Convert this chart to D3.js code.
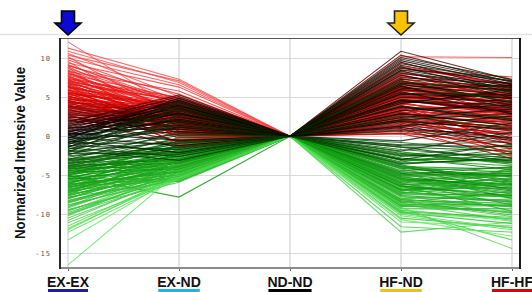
<!DOCTYPE html>
<html><head><meta charset="utf-8">
<script src="https://cdn.jsdelivr.net/npm/d3@7"></script>
<style>body{margin:0;background:#fff;overflow:hidden}</style>
</head><body>
<svg id="c" width="532" height="292"></svg>
<script>
// ---------------- data ----------------
const categories = ["EX-EX", "EX-ND", "ND-ND", "HF-ND", "HF-HF"];
const yTicks = [-15, -10, -5, 0, 5, 10];
const ndNdBaseline = 0; // every profile is normalized to ND-ND
// profiles: [EX-EX, EX-ND, HF-ND, HF-HF]
const greenProfiles = [
 [-2.7,-0.4,-1.1,-0.7],[-2.9,-1.6,-2.2,-3.4],[-3.0,0.5,-0.8,-2.0],[-3.1,-2.4,-3.3,-1.5],
 [-3.2,-1.0,-4.1,-5.2],[-3.3,-3.2,-1.7,-2.8],[-3.4,-0.2,-2.8,-4.3],[-3.5,-2.0,-5.0,-3.9],
 [-3.6,-1.3,-3.9,-6.1],[-3.7,-3.5,-2.4,-1.2],[-3.8,-0.9,-4.6,-4.8],[-3.9,-2.7,-6.2,-5.5],
 [-4.0,-1.8,-3.1,-2.5],[-4.1,-3.9,-5.4,-7.0],[-4.2,-0.6,-2.0,-3.6],[-4.3,-2.2,-4.4,-4.0],
 [-4.4,-3.0,-6.8,-6.6],[-4.5,-1.5,-3.7,-5.8],[-4.6,-4.2,-5.8,-4.5],[-4.7,-2.5,-2.6,-2.3],
 [-4.8,-1.1,-7.2,-7.8],[-4.9,-3.4,-4.9,-6.3],[-5.0,-7.8,-6.0,-5.0],[-5.1,-2.0,-3.4,-3.0],
 [-5.2,-4.6,-7.6,-8.4],[-5.3,-2.9,-5.1,-4.4],[-5.4,-5.6,-4.2,-6.9],[-5.5,-1.7,-6.5,-5.3],
 [-5.6,-3.7,-8.1,-9.0],[-5.7,-5.8,-5.6,-7.4],[-5.8,-2.4,-3.0,-3.8],[-5.9,-4.0,-7.0,-6.0],
 [-6.0,-3.1,-4.7,-8.0],[-6.1,-5.0,-8.5,-7.1],[-6.2,-1.4,-5.9,-4.7],[-6.3,-4.4,-6.4,-9.6],
 [-6.4,-2.6,-3.8,-5.6],[-6.5,-5.3,-8.8,-8.7],[-6.6,-3.6,-5.3,-6.5],[-6.7,-2.1,-7.4,-4.1],
 [-6.8,-4.8,-6.9,-7.7],[-6.9,-3.3,-4.5,-5.9],[-7.0,-5.5,-9.2,-9.3],[-7.1,-2.8,-6.1,-6.8],
 [-7.2,-4.1,-7.8,-8.2],[-7.3,-3.8,-5.0,-5.1],[-7.4,-5.1,-8.3,-10.1],[-7.5,-2.3,-6.6,-7.3],
 [-7.6,-4.5,-7.3,-6.2],[-7.7,-3.5,-9.0,-8.9],[-7.8,-5.7,-6.3,-7.9],[-7.9,-4.3,-8.6,-9.8],
 [-8.0,-3.2,-5.7,-6.4],[-8.2,-5.2,-9.5,-10.6],[-8.4,-4.7,-7.1,-8.5],[-8.6,-3.9,-8.0,-7.6],
 [-8.8,-5.4,-9.8,-11.2],[-9.0,-4.9,-7.7,-9.1],[-9.2,-4.2,-8.9,-8.0],[-9.4,-5.9,-10.5,-11.7],
 [-9.6,-4.6,-8.4,-10.3],[-9.8,-5.0,-9.3,-9.5],[-10.0,-5.5,-11.6,-12.3],[-10.2,-4.4,-8.7,-10.8],
 [-10.5,-5.2,-9.6,-13.3],[-10.8,-4.8,-12.3,-11.0],[-11.1,-5.6,-9.1,-14.4],[-11.5,-5.1,-10.2,-12.0],
 [-12.0,-4.9,-9.9,-10.6],[-12.3,-5.4,-11.0,-11.5],[-13.3,-5.0,-10.7,-12.8],[-16.5,-4.6,-9.4,-10.9],
 [-3.0,-1.9,-1.4,-1.9],[-3.5,-0.7,-3.5,-2.9],[-4.0,-2.9,-4.8,-5.0],[-4.5,-3.3,-2.3,-3.3],
 [-5.0,-1.2,-5.5,-6.2],[-5.5,-3.9,-6.9,-5.7],[-6.0,-2.2,-4.0,-4.6],[-6.5,-4.2,-7.5,-7.5],
 [-7.0,-3.0,-5.6,-7.2],[-7.5,-4.9,-8.2,-8.6],[-8.0,-4.0,-6.7,-5.4],[-8.5,-5.1,-8.9,-9.7],
 [-9.0,-3.6,-7.3,-8.3],[-9.5,-5.3,-9.7,-10.4],[-4.2,-2.6,-5.2,-6.7],[-5.2,-3.5,-3.9,-4.2],
 [-6.2,-4.6,-6.0,-8.8],[-7.2,-2.6,-7.0,-6.0],[-3.8,-1.4,-2.9,-3.1],[-4.9,-2.3,-6.4,-7.6],
 [-6.8,-3.9,-5.2,-4.9],[-8.3,-4.4,-8.4,-9.0],[-10.0,-4.8,-8.0,-9.9],[-11.8,-5.3,-10.0,-11.8]
];
const redProfiles = [
 [12.1,3.2,5.5,2.1],[11.3,7.3,6.8,4.5],[10.9,6.9,8.2,5.6],[10.6,5.1,4.4,1.2],
 [10.4,7.1,9.4,6.3],[10.2,2.4,3.6,-0.8],[10.0,6.6,7.7,6.1],[9.8,4.6,5.2,3.4],
 [9.6,1.1,2.8,0.6],[9.4,6.3,10.2,10.1],[9.2,3.9,6.1,4.8],[9.0,5.4,4.8,2.6],
 [8.8,-0.4,3.1,1.5],[8.7,4.2,7.3,5.2],[8.5,3.3,2.2,-1.8],[8.3,5.8,8.8,6.6],
 [8.2,2.1,5.7,3.1],[8.0,4.9,6.4,4.0],[7.9,3.6,1.6,0.4],[7.8,1.7,4.3,2.2],
 [7.6,4.4,7.0,5.9],[7.5,2.8,3.8,-2.6],[7.4,5.0,6.9,4.4],[7.3,0.6,2.5,1.0],
 [7.2,3.7,5.1,3.6],[7.1,4.1,8.0,6.8],[7.0,2.3,0.9,-0.3],[6.9,3.0,4.6,2.9],
 [6.8,1.4,6.3,5.0],[6.7,4.7,3.4,1.9],[6.6,2.6,5.9,4.1],[6.5,-1.2,1.8,0.2],
 [6.4,3.4,7.6,6.0],[6.3,1.9,4.0,-1.1],[6.2,4.0,2.7,3.3],[6.1,2.2,6.6,5.4],
 [6.0,0.9,3.3,2.4],[5.9,3.8,5.4,4.6],[5.8,1.3,1.2,-2.1],[5.7,2.9,7.2,3.8],
 [5.6,3.5,4.7,5.7],[5.5,0.3,2.0,0.8],[5.4,2.0,5.6,4.3],[5.3,4.3,3.9,1.6],
 [5.2,1.6,6.8,6.4],[5.1,2.7,0.6,-1.4],[5.0,3.1,4.1,3.0],[4.9,0.7,5.3,2.7],
 [4.8,2.4,2.9,4.9],[4.7,3.9,6.0,5.1],[4.6,1.0,3.5,0.0],[4.5,2.5,1.4,2.0],
 [4.4,-0.8,4.5,3.5],[4.3,3.3,5.8,6.2],[4.2,1.8,2.4,-0.6],[4.1,2.9,7.9,4.7],
 [4.0,0.4,3.0,1.3],[3.9,2.2,4.9,3.9],[3.8,3.6,1.0,-2.9],[3.7,1.2,5.0,5.3],
 [3.6,2.0,2.6,1.8],[3.5,-0.2,6.2,4.0],[3.4,2.8,3.7,2.5],[3.3,1.5,0.4,-0.9],
 [3.2,3.2,4.2,5.8],[3.1,0.8,2.1,0.7],[3.0,2.1,5.5,3.2],[2.9,1.1,3.2,4.5],
 [2.8,-1.5,1.5,-1.6],[2.7,2.6,6.5,2.8],[2.6,0.5,2.3,1.1],[2.5,1.7,4.4,5.5],
 [2.4,3.0,0.8,0.3],[2.3,0.2,3.6,3.7],[2.2,1.9,1.9,-0.4],[2.1,-0.6,5.2,4.2],
 [2.0,1.3,2.8,2.3],
 [8.9,2.7,4.9,3.9],[8.1,3.1,6.7,5.3],[7.7,2.0,3.5,1.7],[7.0,4.5,5.8,4.9],
 [6.6,1.2,4.2,2.3],[6.3,3.6,6.1,5.6],[5.9,2.4,2.6,0.9],[5.5,3.9,5.2,4.4],
 [5.2,0.1,3.8,2.8],[4.9,2.6,6.9,5.9],[4.6,1.4,4.7,3.2],[4.3,3.7,2.1,1.2],
 [4.0,1.6,5.9,4.8],[3.7,2.5,3.1,-0.2],[3.4,0.9,4.6,3.4],[3.1,2.7,6.3,6.6],
 [2.8,1.8,3.4,2.1],[2.5,0.6,1.7,-1.0],[6.8,3.3,8.5,7.6],[7.3,4.8,9.0,6.4],
 [5.6,2.2,7.4,5.0],[4.4,2.0,0.3,-2.3],[3.9,0.0,1.3,0.5],[8.4,1.5,5.0,3.7],
 [9.1,4.4,3.4,2.0]
];
const blackProfiles = [
 [1.9,4.8,10.9,7.2],[1.8,5.3,10.4,6.9],[1.7,4.1,9.9,7.0],[1.6,3.5,9.5,5.8],
 [1.5,4.6,9.1,6.6],[1.4,2.8,8.7,7.1],[1.3,5.1,8.4,4.9],[1.2,3.9,8.1,6.2],
 [1.1,1.6,7.8,5.4],[1.0,4.4,7.5,6.8],[0.9,3.2,7.1,4.3],[0.8,0.9,6.8,5.9],
 [0.7,4.0,6.4,3.6],[0.6,2.5,6.1,6.5],[0.5,3.7,5.7,2.9],[0.4,-0.5,5.4,5.0],
 [0.3,2.9,5.0,4.5],[0.2,4.3,4.6,3.1],[0.1,1.4,4.2,6.0],[0.0,3.4,3.8,2.0],
 [-0.1,-1.2,3.3,4.0],[-0.2,2.2,2.9,1.4],[-0.3,4.9,9.7,6.7],[-0.4,0.6,2.4,3.5],
 [-0.5,3.0,8.9,5.6],[-0.6,-2.1,1.9,0.9],[-0.7,1.8,7.3,6.3],[-0.8,3.6,1.3,2.6],
 [-0.9,-0.9,6.0,4.8],[-1.0,2.4,0.7,-0.5],[-1.1,4.2,10.1,7.3],[-1.2,-1.7,-0.6,1.7],
 [-1.3,1.1,5.5,5.3],[-1.4,3.3,-1.2,-1.3],[-1.5,-2.6,4.7,3.8],[-1.6,0.3,-1.9,0.5],
 [-1.7,2.7,8.3,6.1],[-1.8,-3.1,-2.5,-2.2],[-1.9,1.5,3.9,2.2],[-2.0,-0.7,-3.0,-1.0],
 [-2.1,3.8,7.0,5.7],[-2.2,-2.3,-3.6,-2.7],[-2.3,0.1,2.6,1.0],[-2.4,2.0,6.7,4.4],
 [-2.5,-1.4,-1.4,-3.2],
 [1.0,3.0,4.4,4.1],[0.5,4.6,8.5,6.4],[-0.2,3.9,6.6,5.2],[-0.8,1.2,2.1,2.9],
 [-1.4,4.5,9.3,7.1],[0.2,2.0,1.1,-0.2]
];

// ---------------- drawing ----------------
const W = 532, H = 292;
const plot = {left: 60, right: 520, top: 38, bottom: 268};
const svg = d3.select("#c");
const x = d3.scalePoint().domain(categories).range([68, 512]);
const y = d3.scaleLinear().domain([-16.9, 12.6]).range([plot.bottom, plot.top]);

svg.append("line").attr("x1", 0).attr("x2", W).attr("y1", 34.5).attr("y2", 34.5)
  .attr("stroke", "#e3e3e3").attr("stroke-width", 1.5);

// grid
const grid = svg.append("g");
grid.selectAll("line.h").data(yTicks).join("line").attr("class", "h")
  .attr("x1", plot.left).attr("x2", plot.right)
  .attr("y1", d => Math.round(y(d)) + 0.5).attr("y2", d => Math.round(y(d)) + 0.5)
  .attr("stroke", "#dadada").attr("stroke-width", 1.2);
grid.selectAll("line.v").data(categories).join("line").attr("class", "v")
  .attr("y1", plot.top).attr("y2", plot.bottom)
  .attr("x1", d => x(d)).attr("x2", d => x(d))
  .attr("stroke", "#d2d2d2").attr("stroke-width", 1.2);

// profiles
svg.append("clipPath").attr("id", "clip").append("rect")
  .attr("x", plot.left).attr("y", plot.top)
  .attr("width", plot.right - plot.left).attr("height", plot.bottom - plot.top);
const color = d3.scaleLinear().domain([-13, -5, 0, 5, 11])
  .range(["#60e860", "#069406", "#000000", "#d80000", "#ff4a4a"]).clamp(true);
const line = d3.line().x((d, i) => x(categories[i])).y(d => y(d));
const toSeries = p => [p[0], p[1], ndNdBaseline, p[2], p[3]];
const lines = svg.append("g").attr("clip-path", "url(#clip)");
[greenProfiles, redProfiles, blackProfiles].forEach(group => {
  lines.append("g").selectAll("path").data(group).join("path")
    .attr("d", p => line(toSeries(p)))
    .attr("fill", "none")
    .attr("stroke", p => color(p[0]))
    .attr("stroke-width", 1.1)
    .attr("stroke-opacity", 0.8);
});

// axes
const yAxis = svg.append("g").attr("transform", `translate(${plot.left},0)`)
  .call(d3.axisLeft(y).tickValues(yTicks).tickSize(0).tickPadding(9).tickFormat(d => String(d)));
yAxis.select(".domain").remove();
yAxis.selectAll("text").attr("font-family", "DejaVu Sans Mono, monospace")
  .attr("font-size", 7).attr("fill", "#555").attr("letter-spacing", 1);

const xAxis = svg.append("g").attr("transform", `translate(0,${plot.bottom})`)
  .call(d3.axisBottom(x).tickSize(3).tickFormat(""));
xAxis.select(".domain").remove();
xAxis.selectAll("line").attr("stroke", "#666");

// frame
svg.append("line").attr("x1", plot.left).attr("x2", plot.right).attr("y1", plot.top + .5).attr("y2", plot.top + .5)
  .attr("stroke", "#555").attr("stroke-width", 1.2);
svg.append("line").attr("x1", plot.left).attr("x2", plot.right + 1).attr("y1", plot.bottom).attr("y2", plot.bottom)
  .attr("stroke", "#8c8c8c").attr("stroke-width", 2);
svg.append("line").attr("x1", plot.left).attr("x2", plot.left).attr("y1", plot.top).attr("y2", plot.bottom + 1)
  .attr("stroke", "#2a2a2a").attr("stroke-width", 2);
svg.append("line").attr("x1", plot.right).attr("x2", plot.right).attr("y1", plot.top).attr("y2", plot.bottom + 1)
  .attr("stroke", "#1a1a1a").attr("stroke-width", 2);

// y title
svg.append("text").attr("transform", "translate(25,153) rotate(-90)")
  .attr("text-anchor", "middle").attr("font-family", "Liberation Sans, Arial, sans-serif")
  .attr("font-weight", "bold").attr("font-size", 15.5).attr("fill", "#111")
  .attr("textLength", 172).attr("lengthAdjust", "spacingAndGlyphs")
  .text("Normarized Intensive Value");

// category labels with coloured underlines
const underline = {"EX-EX": "#1d1daa", "EX-ND": "#1ab4ee", "ND-ND": "#000000", "HF-ND": "#f5c000", "HF-HF": "#e00000"};
categories.forEach(c => {
  const t = svg.append("text").attr("x", x(c)).attr("y", 287).attr("text-anchor", "middle")
    .attr("font-family", "Liberation Sans, Arial, sans-serif").attr("font-weight", "bold")
    .attr("font-size", 14).attr("fill", "#111").text(c);
  const w = t.node().getComputedTextLength();
  svg.append("rect").attr("x", x(c) - w / 2 + 1).attr("y", 289).attr("width", w - 2).attr("height", 4)
    .attr("fill", underline[c]);
});

// arrows
function arrow(cx, fill, stroke) {
  const p = d3.path();
  p.moveTo(cx - 6.5, 11); p.lineTo(cx + 6.5, 11); p.lineTo(cx + 6.5, 23); p.lineTo(cx + 13, 23);
  p.lineTo(cx, 35); p.lineTo(cx - 13, 23); p.lineTo(cx - 6.5, 23); p.closePath();
  svg.append("path").attr("d", p.toString()).attr("fill", fill).attr("stroke", stroke)
    .attr("stroke-width", 1.6).attr("stroke-linejoin", "miter");
}
arrow(x("EX-EX"), "#0a0ad2", "#000");
arrow(x("HF-ND"), "#f8c400", "#222");
</script>
</body></html>
